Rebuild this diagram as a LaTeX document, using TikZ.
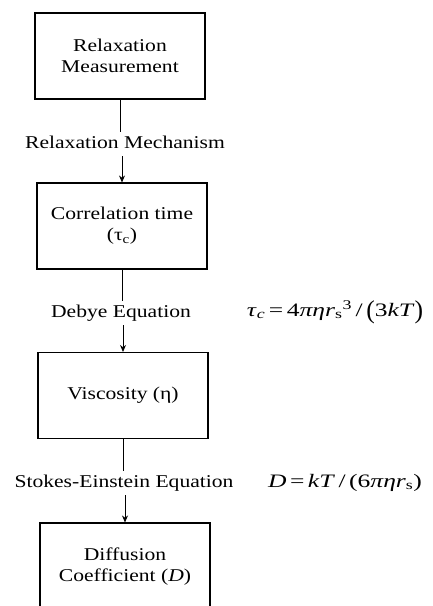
\documentclass[tikz,border=0pt]{standalone}
\usepackage{fontspec}
\usepackage{graphicx}
\setmainfont{Liberation Serif}[FakeStretch=1.2]
\usetikzlibrary{arrows.meta}
\begin{document}
\begin{tikzpicture}[x=1pt,y=-1pt,
  box/.style={draw, line width=1.1pt, minimum width=170pt, minimum height=86pt,
    align=center, inner sep=0pt, font=\fontsize{18}{21}\selectfont},
  lab/.style={font=\fontsize{18}{21}\selectfont, inner xsep=0pt, inner ysep=4pt,
    text height=12pt, text depth=4pt, anchor=base},
  eqn/.style={font=\fontsize{19}{21}\selectfont, inner sep=0pt, anchor=base},
  conn/.style={line width=0.8pt},
  arr/.style={conn, -{Stealth[length=7pt,width=6pt]}}]
\useasboundingbox (0,0) rectangle (432,606);
\clip (0,0) rectangle (432,606);
% boxes
\node[box] (b1) at (120,56) {Relaxation\\Measurement};
\node[box] (b2) at (122,226) {Correlation time\\(τ\textsubscript{c})};
\node[box] (b3) at (123,395.5) {Viscosity (η)};
\node[box, minimum height=88pt] (b4) at (125,567) {Diffusion\\Coefficient (\textit{D})};
% labels
\node[lab] (l1) at (125,148) {Relaxation Mechanism};
\node[lab] (l2) at (121,317) {Debye Equation};
\node[lab] (l3) at (124,487) {Stokes-Einstein Equation};
% equations
\node[eqn] (e1) at (335,316) {\scalebox{1.12}[1]{\textit{τ}\textsubscript{\textit{c}}\,=\,4\textit{πηr}\textsubscript{s}\textsuperscript{3}\,/\,\raisebox{-2.5pt}{\scalebox{1}[1.35]{(}}3\textit{kT}\raisebox{-2.5pt}{\scalebox{1}[1.35]{)}}}};
\node[eqn] (e2) at (345,487) {\scalebox{1.12}[1]{\textit{D}\,=\,\textit{kT}\,/\,(6\textit{πηr}\textsubscript{s})}};
% connectors
\draw[conn] (b1.south) -- (b1.south |- l1.north);
\draw[arr] (b2.north |- l1.south) -- (b2.north);
\draw[conn] (b2.south) -- (b2.south |- l2.north);
\draw[arr] (b3.north |- l2.south) -- (b3.north);
\draw[conn] (b3.south) -- (b3.south |- l3.north);
\draw[arr] (b4.north |- l3.south) -- (b4.north);
\end{tikzpicture}
\end{document}
